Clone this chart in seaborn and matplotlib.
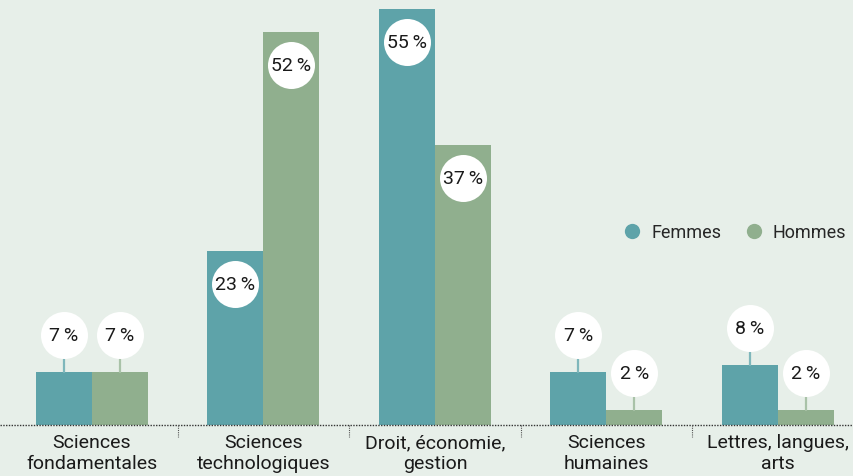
import numpy as np
import pandas as pd
import seaborn as sns
import matplotlib.pyplot as plt
import matplotlib.transforms as mtransforms
from matplotlib.lines import Line2D

# Données
categories = ['Sciences\nfondamentales', 'Sciences\ntechnologiques', 'Droit, économie,\ngestion',
              'Sciences\nhumaines', 'Lettres, langues,\narts']
femmes = [7, 23, 55, 7, 8]
hommes = [7, 52, 37, 2, 2]
series = ['Femmes', 'Hommes']

# Couleurs
bg = '#e7efe9'
colors = {'Femmes': '#5ea3a9', 'Hommes': '#90af8e'}
stem_colors = {'Femmes': '#7fb7bb', 'Hommes': '#a9c2a8'}

df = pd.DataFrame({
    'cat': categories * 2,
    'val': femmes + hommes,
    'sexe': ['Femmes'] * len(categories) + ['Hommes'] * len(categories),
})

sns.set_theme(style='white')
plt.rcParams['font.family'] = ['Roboto', 'DejaVu Sans']

fig = plt.figure(figsize=(8.54, 4.77), dpi=100, facecolor=bg)
ax = fig.add_axes([0, 51 / 477, 1, 426 / 477])
ax.set_facecolor(bg)

sns.barplot(data=df, x='cat', y='val', hue='sexe', palette=colors, width=0.653, gap=0,
            saturation=1, ax=ax, legend=False, linewidth=0)

ax.set_xlim(-0.536, 4.443)
ax.set_ylim(0, 56.35)
for s in ax.spines.values():
    s.set_visible(False)
ax.set_yticks([])
ax.set_xlabel('')
ax.set_ylabel('')
ax.tick_params(axis='x', length=0, pad=6, labelsize=14)
ax.set_xticks(range(len(categories)))
ax.set_xticklabels(categories, linespacing=1.2, color='#1a1a1a')

# ligne de base pointillée
ax.axhline(0, color='#333333', lw=1, ls=(0, (1, 1)), clip_on=False)
for xs in np.arange(0.5, len(categories) - 1, 1.0):
    ax.plot([xs, xs], [0, -1.6], color='#555555', lw=0.8, ls=(0, (1, 1)), clip_on=False)

# étiquettes rondes
bw = 0.653 / 2
for j, (name, vals) in enumerate(zip(series, [femmes, hommes])):
    for i, v in enumerate(vals):
        x = i - bw / 2 + j * bw
        if v >= 20:
            dy = -33
        else:
            dy = 37
            ax.plot([x, x], [v, v + (dy - 24) / 7.56], color=stem_colors[name], lw=1.6, zorder=3)
        tr = mtransforms.offset_copy(ax.transData, fig=fig, x=0, y=dy * 72 / 100, units='points')
        ax.scatter([x], [v], s=(47 * 0.72) ** 2, color='white', transform=tr, zorder=4, linewidths=0)
        ax.text(x, v, f'{v}\u202f%', transform=tr, ha='center', va='center', fontsize=14,
                color='#1a1a1a', zorder=5)

handles = [Line2D([], [], marker='o', ls='', markersize=11, markerfacecolor=colors[n],
                  markeredgewidth=0, label=n) for n in series]
fig.legend(handles=handles, loc='center right', bbox_to_anchor=(846 / 854, 0.511), ncol=2,
           frameon=False, fontsize=13, handletextpad=0.05, columnspacing=0.8,
           borderpad=0, borderaxespad=0)

fig.savefig('out.png', dpi=100, facecolor=bg)
